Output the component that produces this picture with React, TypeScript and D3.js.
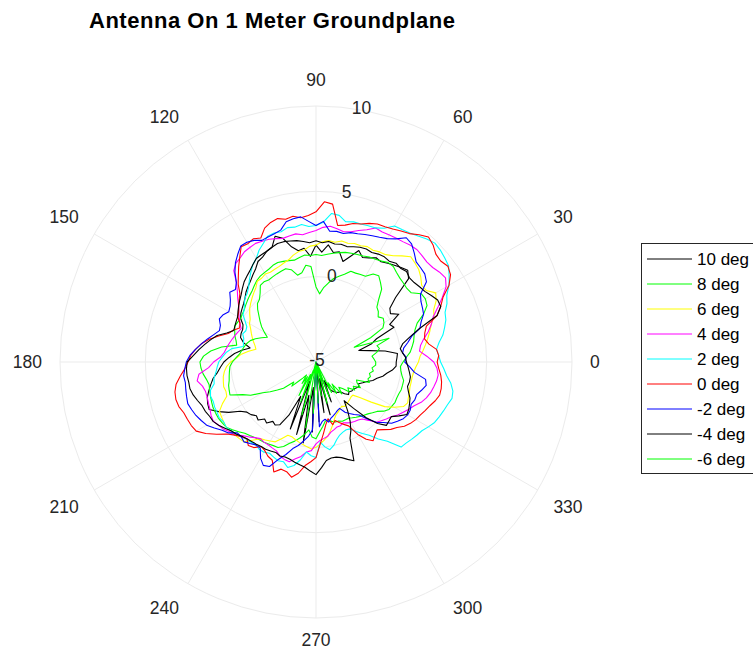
import { useRef, useEffect } from 'react'
import * as d3 from 'd3'

// measurement angles (deg) shared by every series
const angles = d3.range(0, 360, 3)

const deg10 = [
  -0.3, -0.25, -0.2, -0.9, -1.8, -2.4, -1.6, -1.2, 0.0, -0.15,
  0.6, 0.2, 0.35, 1.0, 2.3, 2.6, 2.45, 2.3, 2.15, 2.0,
  2.05, 1.85, 1.7, 2.0, 1.5, 1.1, 1.6, 1.5, 1.9, 1.45,
  1.85, 1.2, 1.7, 1.6, 1.9, 2.5, 2.75, 2.2, 2.1, 1.9,
  1.8, 1.5, 1.3, 1.1, 0.95, 0.8, 0.6, 0.45, 0.35, 0.25,
  0.1, -0.2, -0.3, -0.3, -0.35, -0.6, -1.05, -0.6, -0.2, 0.1,
  0.4, 0.6, 0.8, 1.1, 1.3, 1.5, 1.7, 1.8, 1.85, 1.4,
  0.9, 0.3, 0.0, -0.1, -0.3, -0.2, -0.5, -0.4, -0.7, -0.6,
  -0.75, -1.5, -2.8, -0.8, -3.8, -0.6, -3.0, -0.2, -3.5, -0.9,
  -5, -1.5, -4.5, -2.0, -4.0, -1.8, -4.5, -2.5, -3.8, -3.2,
  -3.0, -2.9, -2.8, -2.75, -2.5, -2.3, -2.4, -2.3, -2.3, -2.2,
  -2.1, -2.2, -2.0, -1.8, -1.5, -1.3, -1.0, -0.8, -0.5, -0.3,
]
const deg8 = [
  0.1, 0.3, 0.55, 0.7, 0.85, 0.95, 1.1, 1.35, 1.9, 2.3,
  2.4, 2.35, 1.9, 1.85, 1.9, 1.95, 2.05, 2.2, 2.2, 2.05,
  1.95, 1.9, 1.8, 1.75, 1.7, 1.65, 1.55, 1.45, 1.35, 1.25,
  1.3, 1.25, 1.3, 1.2, 1.1, 1.15, 1.2, 1.25, 1.2, 1.1,
  1.05, 1.0, 0.9, 0.75, 0.6, 0.5, 0.4, 0.3, 0.2, 0.15,
  0.1, 0.15, 0.2, 0.1, 0.0, -0.15, -0.25, 0.6, 1.2, 1.6,
  1.8, 1.75, 1.65, 1.5, 1.4, 1.45, 1.5, 1.55, 1.6, 1.6,
  1.6, 1.55, 1.5, 1.3, 1.1, 0.9, 0.8, 0.7, 0.63, 0.6,
  0.55, 0.5, 0.48, 0.3, 0.0, -0.2, -0.45, -0.7, -1.0, -0.6,
  -0.5, -0.9, -1.2, -1.5, -1.5, -1.4, -1.3, -1.3, -1.2, -1.2,
  -1.2, -1.1, -1.0, -0.9, -0.8, -0.7, -0.55, -0.4, -0.1, 0.1,
  0.15, 0.2, 0.18, 0.2, 0.25, 0.25, 0.25, 0.1, 0.0, -0.05,
]
const deg6 = [
  1.0, 1.1, 1.3, 1.5, 1.7, 1.9, 2.1, 2.4, 2.55, 2.9,
  3.1, 2.7, 2.65, 2.9, 3.1, 3.2, 3.3, 3.0, 2.7, 2.5,
  2.45, 2.35, 2.4, 2.3, 2.3, 2.2, 2.25, 2.1, 2.15, 2.05,
  1.85, 1.8, 1.6, 1.55, 1.4, 1.2, 1.1, 1.0, 0.95, 0.9,
  0.95, 0.85, 0.85, 0.6, 0.45, 0.3, 0.15, 0.0, -0.2, -0.4,
  -0.5, -0.7, -0.85, -1.0, -1.15, -1.3, -1.4, -1.0, -0.6, -0.35,
  0.0, 0.25, 0.4, 0.5, 0.55, 0.6, 0.55, 0.6, 1.0, 1.35,
  1.4, 1.45, 1.5, 1.45, 1.4, 1.35, 1.3, 0.9, 0.55, 0.45,
  0.35, 0.25, -0.1, -0.4, -0.4, -0.3, -0.2, -0.1, 0.0, 0.1,
  0.0, -0.2, -0.4, -0.6, -0.9, -1.2, -1.5, -1.7, -1.8, -1.9,
  -2.0, -1.9, -1.95, -2.0, -2.05, -2.1, -2.1, -1.7, -1.0, -0.2,
  0.3, 0.75, 0.88, 0.8, 0.75, 0.7, 0.7, 0.7, 0.75, 0.85,
]
const deg4 = [
  1.9, 1.5, 1.1, 1.2, 1.45, 1.8, 2.1, 2.35, 2.8, 3.3,
  3.8, 4.05, 3.95, 3.8, 3.75, 3.8, 3.85, 3.8, 3.7, 3.65,
  3.6, 3.55, 3.6, 3.3, 3.1, 2.9, 2.8, 2.9, 3.0, 2.9,
  2.7, 2.6, 2.5, 2.6, 2.55, 2.5, 2.6, 2.7, 2.75, 2.8,
  2.75, 2.7, 2.55, 2.45, 2.2, 1.6, 1.2, 0.9, 0.6, 0.4,
  0.2, 0.0, -0.2, -0.1, 0.0, 0.1, 0.2, 0.3, 0.4, 0.6,
  1.0, 1.3, 1.9, 2.05, 1.8, 1.7, 1.7, 1.75, 1.8, 1.9,
  1.95, 1.8, 1.7, 1.5, 1.4, 1.1, 0.9, 0.7, 0.55, 0.6,
  0.6, 0.65, 0.7, 0.9, 1.0, 1.05, 0.8, 0.6, 0.3, 0.2,
  -0.2, -0.4, -0.5, -0.6, -0.8, -0.9, -1.0, -1.0, -1.1, -1.0,
  -0.9, -0.85, -0.8, -0.7, -0.4, 0.0, 0.15, 0.3, 0.45, 0.7,
  0.9, 1.1, 1.3, 1.6, 1.8, 1.95, 2.05, 2.15, 2.2, 2.1,
]
const deg2 = [
  2.3, 2.2, 2.1, 2.3, 2.6, 2.8, 3.0, 3.1, 3.4, 3.6,
  4.0, 4.3, 4.6, 4.7, 4.8, 4.85, 4.7, 4.5, 4.35, 4.25,
  4.2, 3.8, 3.6, 3.55, 3.5, 3.5, 3.4, 3.7, 3.75, 3.2,
  3.0, 2.95, 3.1, 3.0, 3.05, 2.9, 2.95, 2.9, 2.6, 2.35,
  2.0, 1.8, 1.5, 1.2, 0.9, 0.7, 0.6, 0.4, 0.2, 0.1,
  -0.2, -0.45, -0.5, -0.4, -0.55, -0.6, -0.65, 0.0, 0.3, 0.5,
  0.7, 0.8, 0.9, 1.05, 1.1, 1.4, 1.5, 1.45, 1.5, 1.5,
  1.55, 1.45, 1.5, 1.4, 1.3, 1.2, 1.1, 1.05, 1.0, 1.1,
  1.1, 1.0, 1.1, 1.2, 1.15, 1.4, 1.2, 0.8, 0.3, 0.5,
  0.6, -0.3, 0.0, 0.2, 0.0, -0.3, -0.5, -0.6, -0.65, -0.6,
  -0.3, 0.0, 0.3, 0.8, 1.25, 2.05, 2.1, 2.2, 2.3, 2.4,
  2.6, 2.8, 2.9, 3.0, 3.1, 3.25, 3.2, 3.0, 2.7, 2.5,
]
const deg0 = [
  2.1, 2.2, 2.1, 1.7, 1.5, 1.6, 1.8, 2.6, 3.0, 3.35,
  4.0, 4.4, 4.55, 4.4, 4.45, 4.7, 4.85, 4.6, 4.3, 4.15,
  4.0, 3.9, 3.85, 3.7, 3.5, 3.4, 3.2, 3.1, 4.3, 4.4,
  3.8, 3.6, 3.5, 3.65, 3.55, 3.7, 3.6, 3.4, 2.95, 3.1,
  3.0, 3.05, 2.6, 2.2, 1.8, 1.45, 1.0, 0.8, 0.6, 0.4,
  0.3, 0.0, -0.1, 0.2, 0.4, 0.9, 1.4, 1.8, 2.1, 2.35,
  2.5, 2.7, 3.0, 3.3, 3.45, 3.5, 3.45, 3.3, 3.25, 3.2,
  3.1, 2.7, 2.2, 1.7, 1.4, 1.2, 1.05, 1.3, 1.2, 0.9,
  1.0, 1.2, 1.3, 1.9, 1.6, 1.65, 1.9, 1.6, 1.1, 0.85,
  0.6, -0.2, -0.8, -1.3, -1.6, -1.2, -1.4, -1.2, -1.0, -0.8,
  -0.1, 0.4, 0.7, 0.5, 0.35, 0.6, 0.9, 1.1, 1.4, 1.6,
  1.75, 1.85, 2.0, 2.15, 2.35, 2.5, 2.5, 2.45, 2.35, 2.2,
]
const degM2 = [
  0.2, 0.3, 0.1, 0.2, 0.5, 0.8, 1.4, 1.6, 1.9, 2.0,
  2.1, 2.3, 3.0, 3.2, 3.25, 3.3, 3.6, 3.9, 4.0, 3.6,
  3.35, 3.2, 3.1, 3.0, 2.9, 2.85, 2.7, 2.75, 2.7, 3.25,
  3.0, 3.25, 3.55, 3.5, 3.4, 3.0, 2.9, 2.85, 2.8, 3.0,
  3.1, 3.1, 2.8, 2.5, 2.1, 1.6, 1.35, 1.5, 1.2, 1.0,
  0.9, 1.1, 1.2, 1.0, 0.95, 1.2, 1.5, 1.8, 2.1, 2.4,
  2.6, 2.7, 2.8, 2.75, 2.8, 2.85, 2.9, 2.8, 2.7, 2.55,
  2.4, 2.1, 1.8, 1.6, 1.2, 1.2, 1.3, 1.15, 1.0, 1.0,
  1.5, 1.8, 1.7, 1.1, 0.7, 0.25, 0.0, -0.3, -0.6, -1.0,
  -5, -1.2, -1.5, -1.6, -1.4, -1.6, -1.7, -1.8, -1.9, -1.95,
  -1.6, -1.4, -1.2, -1.0, -0.5, 0.0, 0.3, 0.7, 0.9, 1.1,
  1.2, 1.2, 1.1, 1.2, 1.2, 1.4, 1.6, 1.5, 0.8, 0.5,
]
const degM4 = [
  0.3, 0.25, 0.1, 0.0, 0.2, 0.7, 1.4, 2.6, 3.0, 3.0,
  2.8, 2.6, 2.5, 2.4, 2.37, 2.5, 2.4, 2.45, 2.3, 2.35,
  2.3, 2.2, 2.25, 2.2, 2.1, 2.0, 2.05, 2.0, 2.1, 2.0,
  2.1, 2.0, 2.1, 2.2, 2.25, 2.3, 2.3, 2.2, 2.1, 2.05,
  2.0, 1.8, 1.6, 1.45, 1.3, 1.1, 0.9, 0.75, 0.6, 0.45,
  0.3, 0.25, 0.2, 0.16, 0.5, 1.0, 1.3, 1.6, 1.9, 2.2,
  2.55, 2.6, 2.6, 2.55, 2.55, 2.45, 2.3, 2.15, 2.1, 2.0,
  1.96, 1.8, 1.6, 1.4, 1.3, 1.15, 1.05, 1.0, 0.95, 0.9,
  0.9, 0.85, 0.8, 0.9, 0.85, 0.9, 1.0, 1.1, 1.2, 1.4,
  1.6, 1.2, 0.8, 0.7, 0.7, 0.8, 1.0, 1.2, -0.1, -0.5,
  -1.0, -1.6, -2.2, -1.5, -0.6, 0.1, 0.55, 0.5, 0.45, 0.8,
  1.15, 1.1, 1.0, 0.9, 0.7, 0.55, 0.6, 0.6, 0.5, 0.4,
]
const degM6 = [
  -1.5, -1.6, -1.7, -1.4, -1.2, -1.3, -0.5, -2.6, -1.5, -0.6,
  -0.4, -0.3, -0.5, -0.3, -0.2, 0.2, 0.75, 1.0, 1.25, 1.15,
  0.8, 0.75, 0.7, 0.7, 0.4, 0.2, 0.0, -0.3, -0.6, -1.0,
  -0.6, 0.6, 0.7, 0.3, 0.2, 0.6, 0.75, 0.7, 0.65, 0.6,
  0.55, 0.6, 0.55, 0.2, -0.05, -0.15, -0.4, -0.7, -0.95, -1.2,
  -1.5, -1.8, -1.5, -1.2, -0.95, -0.8, -0.7, -0.6, -0.5, -0.3,
  -0.1, 0.05, 0.1, 0.15, 0.2, 0.3, 0.35, 0.4, -0.3, -0.7,
  -1.4, -1.8, -2.2, -2.55, -3.25, -3.0, -3.5, -3.8, -4.06, -3.5,
  -4.0, -2.8, -4.2, -2.5, -4.5, -1.8, -5, -1.1, -5, -2.0,
  -5, -2.6, -5, -3.0, -5, -2.5, -4.5, -2.8, -5, -3.0,
  -3.6, -2.8, -3.4, -2.6, -3.0, -2.8, -2.4, -2.6, -2.2, -2.4,
  -2.0, -2.3, -2.4, -1.65, -1.8, -1.7, -1.8, -1.6, -1.7, -1.5,
]

const seriesNames = ['10 deg', '8 deg', '6 deg', '4 deg', '2 deg', '0 deg', '-2 deg', '-4 deg', '-6 deg']
const seriesColors = ['#000000', '#00ff00', '#ffff00', '#ff00ff', '#00ffff', '#ff0000', '#0000ff', '#000000', '#00ff00']
const seriesValues = [deg10, deg8, deg6, deg4, deg2, deg0, degM2, degM4, degM6]

const rTicks = [-5, 0, 5, 10]
const thetaTicks = [0, 30, 60, 90, 120, 150, 180, 210, 240, 270, 300, 330]

const FONT = "'Liberation Sans', Arial, Helvetica, sans-serif"
const LABEL_COLOR = '#262626'
const GRID_COLOR = '#ebebeb'

function PolarChart() {
  const svgRef = useRef<SVGSVGElement | null>(null)

  useEffect(() => {
    const svg = d3.select(svgRef.current)
    svg.selectAll('*').remove()

    const cx = 316
    const cy = 362
    const R = 256
    const rScale = d3.scaleLinear().domain([-5, 10]).range([0, R]).clamp(true)
    const toRad = (d: number) => (d * Math.PI) / 180

    const g = svg.append('g').attr('transform', `translate(${cx},${cy})`)

    // grid: circles then spokes
    rTicks
      .filter((t) => t > -5)
      .forEach((t) => {
        g.append('circle')
          .attr('r', rScale(t))
          .attr('fill', 'none')
          .attr('stroke', GRID_COLOR)
          .attr('stroke-width', 1)
      })
    thetaTicks.forEach((t) => {
      g.append('line')
        .attr('x1', 0)
        .attr('y1', 0)
        .attr('x2', R * Math.cos(toRad(t)))
        .attr('y2', -R * Math.sin(toRad(t)))
        .attr('stroke', GRID_COLOR)
        .attr('stroke-width', 1)
    })

    // series, first entry drawn at the bottom
    const line = d3
      .lineRadial<number>()
      .angle((_, i) => toRad(90 - angles[i]))
      .radius((v) => rScale(v))
      .curve(d3.curveLinearClosed)

    seriesValues.forEach((vals, i) => {
      g.append('path')
        .attr('d', line(vals))
        .attr('fill', 'none')
        .attr('stroke', seriesColors[i])
        .attr('stroke-width', 1.1)
        .attr('stroke-linejoin', 'round')
    })

    // theta tick labels: nearest box corner sits on a fixed radius
    const D = 274
    thetaTicks.forEach((t) => {
      const txt = String(t)
      const c = Math.cos(toRad(t))
      const s = Math.sin(toRad(t))
      const w = txt.length * 9.8
      const h = 16
      const sx = Math.abs(c) < 0.01 ? 0 : Math.sign(c)
      const sy = Math.abs(s) < 0.01 ? 0 : Math.sign(s)
      const y = Math.min(-D * s - (sy * h) / 2, 278)
      g.append('text')
        .attr('x', D * c + (sx * w) / 2)
        .attr('y', y)
        .attr('dy', '0.36em')
        .attr('text-anchor', 'middle')
        .attr('fill', LABEL_COLOR)
        .attr('font-size', '17.5px')
        .attr('font-family', FONT)
        .text(txt)
    })

    // r tick labels along 80 deg
    rTicks.forEach((t) => {
      const rr = rScale(t)
      g.append('text')
        .attr('x', rr * Math.cos(toRad(80)) + 1)
        .attr('y', -rr * Math.sin(toRad(80)) - 2)
        .attr('dy', '0.36em')
        .attr('text-anchor', 'middle')
        .attr('fill', LABEL_COLOR)
        .attr('font-size', '17.5px')
        .attr('font-family', FONT)
        .text(t)
    })

    // title
    svg
      .append('text')
      .attr('x', 272)
      .attr('y', 28)
      .attr('text-anchor', 'middle')
      .attr('font-size', '22px')
      .attr('font-weight', 'bold')
      .attr('font-family', FONT)
      .attr('fill', '#000')
      .attr('textLength', 366)
      .attr('lengthAdjust', 'spacing')
      .text('Antenna On 1 Meter Groundplane')

    // legend
    const lg = svg.append('g')
    lg.append('rect')
      .attr('x', 641.5)
      .attr('y', 243.5)
      .attr('width', 130)
      .attr('height', 230)
      .attr('fill', '#fff')
      .attr('stroke', '#262626')
      .attr('stroke-width', 1)
    seriesNames.forEach((name, i) => {
      const y = 259 + i * 25
      lg.append('line')
        .attr('x1', 647)
        .attr('x2', 692)
        .attr('y1', y)
        .attr('y2', y)
        .attr('stroke', seriesColors[i])
        .attr('stroke-width', 1)
      lg.append('text')
        .attr('x', 697)
        .attr('y', y)
        .attr('dy', '0.36em')
        .attr('fill', '#000')
        .attr('font-size', '17px')
        .attr('font-family', FONT)
        .text(name)
    })
  }, [])

  return (
    <svg
      ref={svgRef}
      width={753}
      height={651}
      style={{ position: 'absolute', left: 0, top: 0, background: '#fff', display: 'block' }}
    />
  )
}

export default function App() {
  return <PolarChart />
}
